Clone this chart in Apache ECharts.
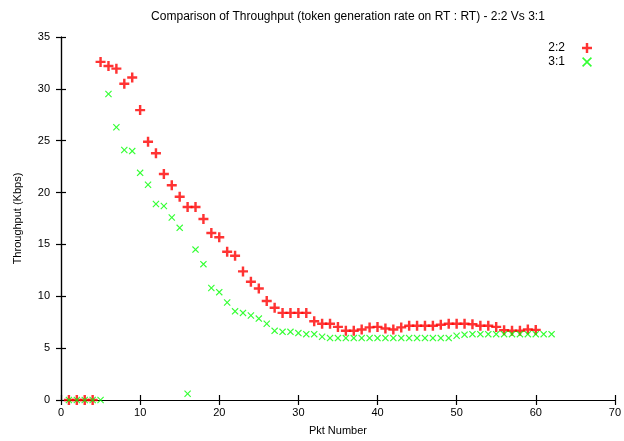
<!DOCTYPE html>
<html>
<head>
<meta charset="utf-8">
<script src="https://cdn.jsdelivr.net/npm/echarts@6/dist/echarts.min.js"></script>
<style>
  html, body { margin: 0; padding: 0; background: #fff; }
  #chart { width: 624px; height: 441px; }
</style>
</head>
<body>
<div id="chart"></div>
<script>
// Throughput per packet, token generation rate on RT : RT
const pkt22 = [1, 2, 3, 4, 5, 6, 7, 8, 9, 10, 11, 12, 13, 14, 15, 16, 17, 18, 19, 20,
  21, 22, 23, 24, 25, 26, 27, 28, 29, 30, 31, 32, 33, 34, 35, 36, 37, 38, 39, 40,
  41, 42, 43, 44, 45, 46, 47, 48, 49, 50, 51, 52, 53, 54, 55, 56, 57, 58, 59, 60];
const kbps22 = [0, 0, 0, 0, 32.6, 32.2, 31.95, 30.5, 31.1, 27.95, 24.9, 23.8, 21.8, 20.7, 19.6, 18.6, 18.6, 17.45, 16.1, 15.7,
  14.3, 13.9, 12.4, 11.4, 10.75, 9.55, 8.9, 8.4, 8.4, 8.4, 8.4, 7.6, 7.35, 7.35, 7.05, 6.67, 6.67, 6.8, 7.0, 7.05,
  6.9, 6.8, 7.0, 7.15, 7.15, 7.15, 7.15, 7.25, 7.35, 7.35, 7.35, 7.3, 7.15, 7.15, 7.05, 6.73, 6.67, 6.67, 6.8, 6.76];

const pkt31 = [1, 2, 3, 4, 5, 6, 7, 8, 9, 10, 11, 12, 13, 14, 15, 16, 17, 18, 19, 20,
  21, 22, 23, 24, 25, 26, 27, 28, 29, 30, 31, 32, 33, 34, 35, 36, 37, 38, 39, 40,
  41, 42, 43, 44, 45, 46, 47, 48, 49, 50, 51, 52, 53, 54, 55, 56, 57, 58, 59, 60, 61, 62];
const kbps31 = [0, 0, 0, 0, 0, 29.5, 26.3, 24.1, 24.0, 21.9, 20.75, 18.9, 18.7, 17.6, 16.6, 0.6, 14.5, 13.1, 10.8, 10.4,
  9.4, 8.55, 8.4, 8.15, 7.85, 7.35, 6.67, 6.57, 6.57, 6.45, 6.35, 6.35, 6.1, 5.97, 5.97, 5.97, 5.97, 5.97, 5.97, 5.97,
  5.97, 5.97, 5.97, 5.97, 5.97, 5.97, 5.97, 5.97, 5.97, 6.2, 6.3, 6.35, 6.35, 6.35, 6.35, 6.35, 6.35, 6.35, 6.35, 6.35, 6.35, 6.35];

const xTicks = { min: 0, max: 70, interval: 10 };
const yTicks = { min: 0, max: 35, interval: 5 };

const FONT = 'Liberation Sans, Arial, sans-serif';
const PLUS = 'path://M-1.1,-4.5H1.1V-1.1H4.5V1.1H1.1V4.5H-1.1V1.1H-4.5V-1.1H-1.1Z';
const CROSS = 'path://M-3,-3.9L0,-0.9L3,-3.9L3.9,-3L0.9,0L3.9,3L3,3.9L0,0.9L-3,3.9L-3.9,3L-0.9,0L-3.9,-3Z';

const pairs = (xs, ys) => xs.map((x, i) => [x, ys[i]]);

const axisBase = {
  axisLine: { show: true, lineStyle: { color: '#000', width: 1.2 } },
  axisTick: { show: true, inside: true, length: 5, lineStyle: { color: '#000', width: 1.2 } },
  splitLine: { show: false },
  axisLabel: { color: '#000', fontFamily: FONT, fontSize: 11 }
};

const chart = echarts.init(document.getElementById('chart'), null, { renderer: 'canvas' });
chart.setOption({
  animation: false,
  backgroundColor: '#fff',
  title: {
    text: 'Comparison of Throughput (token generation rate on RT : RT) - 2:2 Vs 3:1',
    left: 343, top: 6, textAlign: 'center',
    textStyle: { color: '#000', fontFamily: FONT, fontSize: 12, fontWeight: 'normal' }
  },
  legend: {
    orient: 'vertical', right: 27, top: 37, align: 'right',
    itemWidth: 10, itemHeight: 10, itemGap: 2,
    textStyle: { color: '#000', fontFamily: FONT, fontSize: 12, lineHeight: 10, padding: [0, 12, 0, 0] },
    data: [
      { name: '2:2', icon: PLUS, itemStyle: { color: '#ff0000' } },
      { name: '3:1', icon: CROSS, itemStyle: { color: '#00ff00' } }
    ]
  },
  grid: { left: 61, right: 5, top: 37, bottom: 37 },
  xAxis: [
    Object.assign({}, axisBase, {
      type: 'value', min: xTicks.min, max: xTicks.max, interval: xTicks.interval,
      name: 'Pkt Number', nameLocation: 'middle', nameGap: 25,
      nameTextStyle: { color: '#000', fontFamily: FONT, fontSize: 11 },
      axisLabel: Object.assign({}, axisBase.axisLabel, { margin: 7 })
    }),
    Object.assign({}, axisBase, {
      type: 'value', position: 'top', min: xTicks.min, max: xTicks.max, interval: xTicks.interval,
      axisLabel: { show: false }
    })
  ],
  yAxis: [
    Object.assign({}, axisBase, {
      type: 'value', min: yTicks.min, max: yTicks.max, interval: yTicks.interval,
      name: 'Throughput (Kbps)', nameLocation: 'middle', nameGap: 38,
      nameTextStyle: { color: '#000', fontFamily: FONT, fontSize: 11 },
      axisLabel: Object.assign({}, axisBase.axisLabel, { margin: 11 })
    }),
    Object.assign({}, axisBase, {
      type: 'value', position: 'right', min: yTicks.min, max: yTicks.max, interval: yTicks.interval,
      axisLabel: { show: false }
    })
  ],
  series: [
    {
      name: '2:2', type: 'scatter', symbol: PLUS, symbolSize: 10,
      itemStyle: { color: '#ff0000' },
      data: pairs(pkt22, kbps22)
    },
    {
      name: '3:1', type: 'scatter', symbol: CROSS, symbolSize: 7,
      itemStyle: { color: '#00ff00' },
      data: pairs(pkt31, kbps31)
    }
  ]
});
</script>
</body>
</html>
